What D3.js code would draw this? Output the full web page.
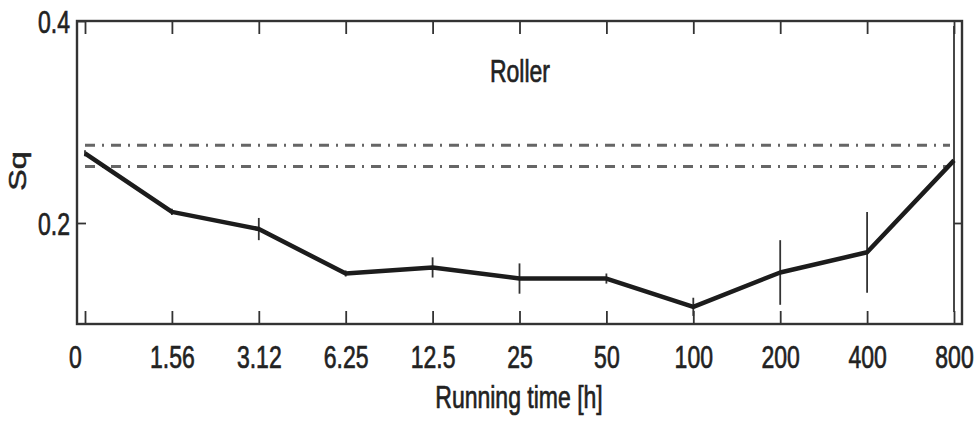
<!DOCTYPE html>
<html>
<head>
<meta charset="utf-8">
<script src="https://cdn.jsdelivr.net/npm/d3@7"></script>
<style>
  body { margin: 0; background: #fff; }
  svg text { font-family: 'Liberation Sans', Arial, Helvetica, sans-serif; fill: #222; stroke: #222; stroke-width: 0.5px; }
</style>
</head>
<body>
<div id="chart"></div>
<script>
// running time categories (h)
const categories = ['0', '1.56', '3.12', '6.25', '12.5', '25', '50', '100', '200', '400', '800'];
// mean Sq per running time
const sqValues = [0.269, 0.211, 0.194, 0.150, 0.156, 0.145, 0.145, 0.117, 0.151, 0.171, 0.262];
// half length of error bars
const sqErrors = [0.003, 0.003, 0.011, 0.003, 0.010, 0.015, 0.005, 0.009, 0.032, 0.040, 0.150];
// reference levels (dash-dot)
const refLevels = [0.277, 0.256];
const yTicks = [0.2, 0.4];
const yDomain = [0.1, 0.4];

const W = 977, H = 423;
const frame = { left: 77, right: 962, top: 21, bottom: 324 };
const stretch = 1.4; // the source picture is stretched vertically
const fontSize = 23;

const svg = d3.select('#chart').append('svg')
  .attr('width', W)
  .attr('height', H);

const xScale = d3.scalePoint()
  .domain(categories)
  .range([85, 954]);

const yScale = d3.scaleLinear()
  .domain(yDomain)
  .range([frame.bottom, frame.top]);

const data = categories.map((c, i) => ({ cat: c, v: sqValues[i], e: sqErrors[i] }));

svg.append('clipPath').attr('id', 'plot-clip')
  .append('rect')
  .attr('x', frame.left).attr('y', frame.top + 5)
  .attr('width', frame.right - frame.left)
  .attr('height', frame.bottom - frame.top - 5);

// stretch a text vertically around its anchor
function stretchText(sel, dx, dy, em) {
  sel.each(function () {
    d3.select(this)
      .attr('x', 0).attr('y', 0)
      .attr('dy', em)
      .attr('transform', `translate(${dx},${dy}) scale(1,${stretch})`)
      .style('font-size', fontSize + 'px');
  });
}

// bottom axis with labels
const xAxis = svg.append('g')
  .attr('transform', `translate(0,${frame.bottom})`)
  .call(d3.axisBottom(xScale).tickSize(-13).tickSizeOuter(0));
xAxis.select('.domain').remove();
xAxis.selectAll('.tick text').call(stretchText, 0, 44, '0');
// first label sits a bit left of its tick in the source
xAxis.selectAll('.tick text').filter(d => d === categories[0])
  .attr('transform', `translate(-10,44) scale(1,${stretch})`);

// top axis, ticks only
const topAxis = svg.append('g')
  .attr('transform', `translate(0,${frame.top})`)
  .call(d3.axisTop(xScale).tickSize(-13).tickSizeOuter(0).tickFormat(''));
topAxis.select('.domain').remove();

// left axis
const yAxis = svg.append('g')
  .attr('transform', `translate(${frame.left},0)`)
  .call(d3.axisLeft(yScale).tickValues(yTicks).tickSize(-9).tickSizeOuter(0).tickFormat(d3.format('.1f')));
yAxis.select('.domain').remove();
yAxis.selectAll('.tick text')
  .attr('text-anchor', 'end')
  .call(stretchText, -7, 0, '0.35em');

// right axis, ticks only
const rightAxis = svg.append('g')
  .attr('transform', `translate(${frame.right},0)`)
  .call(d3.axisRight(yScale).tickValues([0.2]).tickSize(-8).tickSizeOuter(0).tickFormat(''));
rightAxis.select('.domain').remove();

svg.selectAll('.tick line')
  .attr('stroke', '#333')
  .attr('stroke-width', 1.8);

// frame
svg.append('rect')
  .attr('x', frame.left).attr('y', frame.top)
  .attr('width', frame.right - frame.left)
  .attr('height', frame.bottom - frame.top)
  .attr('fill', 'none')
  .attr('stroke', '#333')
  .attr('stroke-width', 2.4);

const plot = svg.append('g').attr('clip-path', 'url(#plot-clip)');

// reference dash-dot lines
plot.selectAll('.ref')
  .data(refLevels)
  .enter().append('line')
  .classed('ref', true)
  .attr('x1', xScale(categories[0]))
  .attr('x2', xScale(categories[categories.length - 1]) - 4)
  .attr('y1', d => yScale(d))
  .attr('y2', d => yScale(d))
  .attr('stroke', '#666')
  .attr('stroke-width', 3)
  .attr('stroke-dasharray', '10,7,2,7');

// error bars
plot.selectAll('.err')
  .data(data)
  .enter().append('line')
  .classed('err', true)
  .attr('x1', d => xScale(d.cat))
  .attr('x2', d => xScale(d.cat))
  .attr('y1', d => yScale(d.v + d.e))
  .attr('y2', d => yScale(d.v - d.e))
  .attr('stroke', '#333')
  .attr('stroke-width', 1.8);

// mean line
const line = d3.line()
  .x(d => xScale(d.cat))
  .y(d => yScale(d.v));

plot.append('path')
  .datum(data)
  .attr('d', line)
  .attr('fill', 'none')
  .attr('stroke', '#1c1c1c')
  .attr('stroke-width', 4.5)
  .attr('stroke-linejoin', 'round');

// title inside plot
svg.append('text')
  .attr('text-anchor', 'middle')
  .text('Roller')
  .call(stretchText, 520, 82, '0');

// x label
svg.append('text')
  .attr('text-anchor', 'middle')
  .text('Running time [h]')
  .call(stretchText, 519, 408, '0');

// y label
svg.append('text')
  .attr('text-anchor', 'middle')
  .text('Sq')
  .each(function () {
    d3.select(this)
      .attr('x', 0).attr('y', 0)
      .attr('dy', '0.35em')
      .attr('transform', `translate(18,171) scale(1,${stretch}) rotate(-90)`)
      .style('font-size', fontSize + 'px');
  });
</script>
</body>
</html>
